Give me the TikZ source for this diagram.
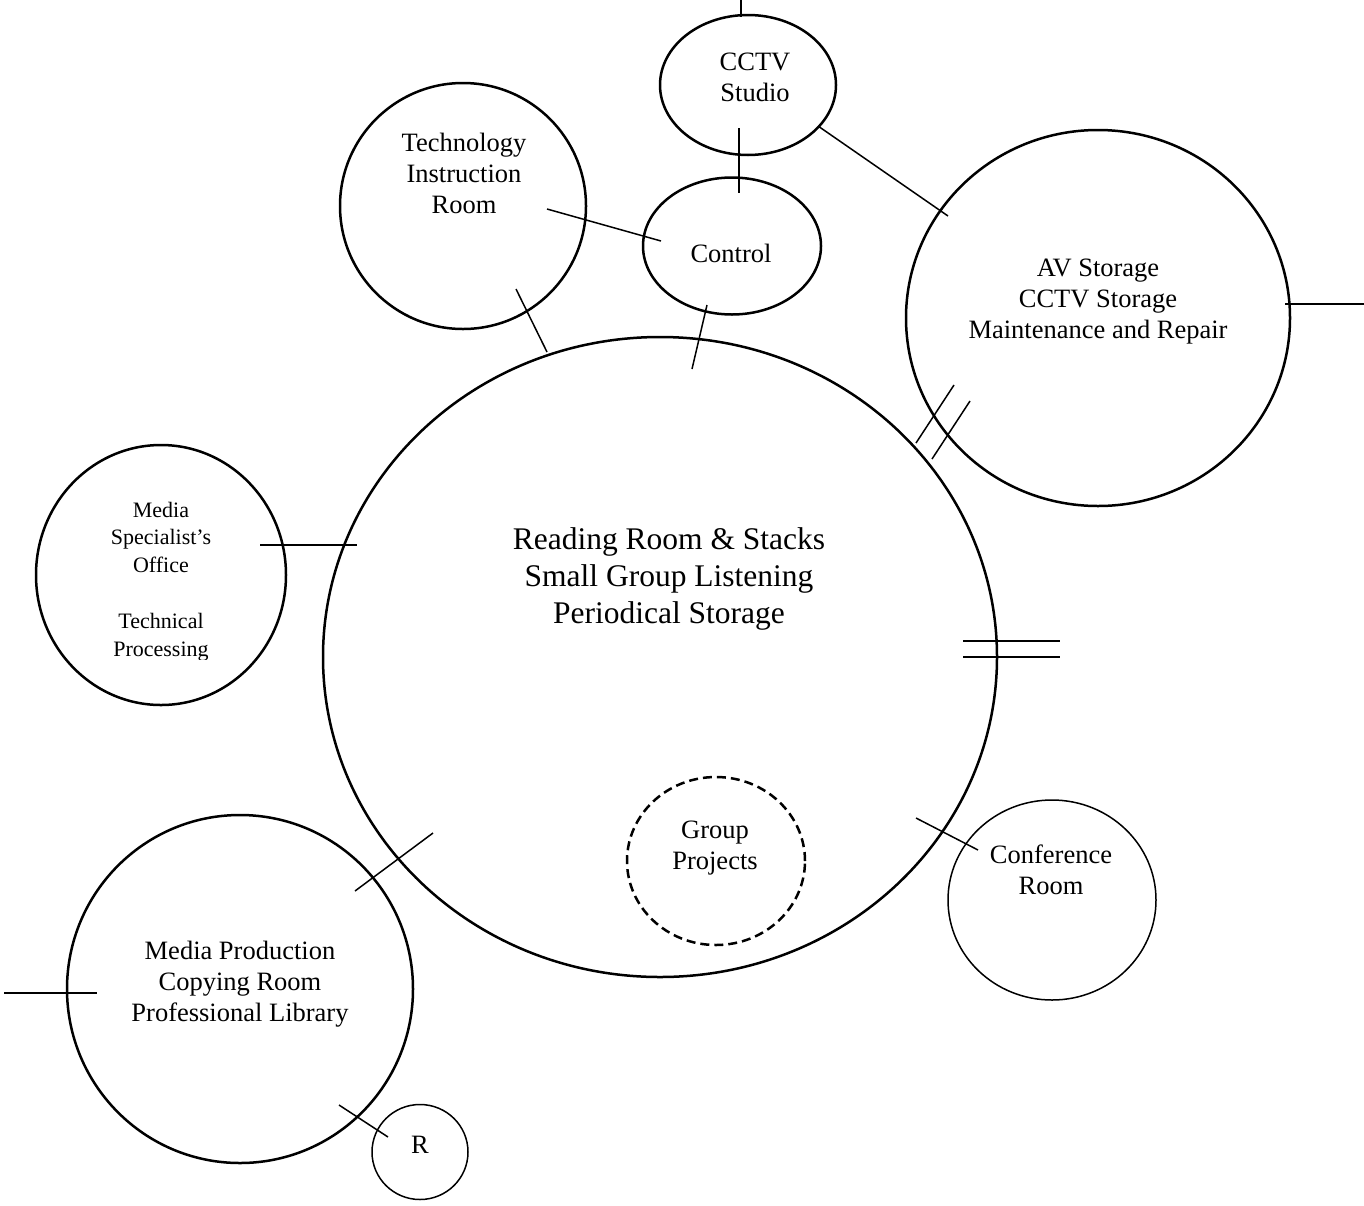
\documentclass[tikz,border=0pt]{standalone}
\usepackage{fontspec}
\setmainfont{Liberation Serif}
\usetikzlibrary{shapes.geometric}
\begin{document}
\begin{tikzpicture}[x=1pt,y=-1pt,
  room/.style={draw,ellipse,line width=2.5pt,inner sep=0pt},
  thinroom/.style={draw,ellipse,line width=1.5pt,inner sep=0pt},
  link/.style={line width=1.5pt},
  lbl/.style={align=center,inner sep=0pt,font=\fontsize{26.5}{31}\selectfont},
  biglbl/.style={align=center,inner sep=0pt,font=\fontsize{31.5}{37}\selectfont},
  smalllbl/.style={align=center,inner sep=0pt,font=\fontsize{22}{27.5}\selectfont}]
\useasboundingbox (0,0) rectangle (1364,1205);

% rooms
\node[room,minimum width=674,minimum height=640] (main) at (660,657) {};
\node[room,minimum width=246,minimum height=246] (tech) at (463,206) {};
\node[room,minimum width=176,minimum height=140] (cctv) at (748,85) {};
\node[room,minimum width=178,minimum height=137] (control) at (732,246) {};
\node[room,minimum width=384,minimum height=376] (av) at (1098,318) {};
\node[room,minimum width=250,minimum height=260] (office) at (161,575) {};
\node[room,minimum width=346,minimum height=348] (prod) at (240,989) {};
\node[thinroom,minimum width=96,minimum height=95] (rr) at (420,1152) {};
\node[thinroom,minimum width=208,minimum height=200] (conf) at (1052,900) {};
\node[room,dashed,dash pattern=on 9pt off 5pt,minimum width=178,minimum height=168] (group) at (716,861) {};

% labels
\node[biglbl] (mainlbl) at (669,579) {Reading Room \& Stacks\\Small Group Listening\\Periodical Storage};
\node[lbl] (techlbl) at (464,173) {Technology\\Instruction\\Room};
\node[lbl] (cctvlbl) at (755,77) {CCTV\\Studio};
\node[lbl] (controllbl) at (731,253) {Control};
\node[lbl] (avlbl) at (1098,302) {AV Storage\\CCTV Storage\\Maintenance and Repair};
\node[smalllbl] (officelbl) at (161,537) {Media\\Specialist's\\Office};
\begin{scope}
  \clip (40,600) rectangle (280,659);
  \node[smalllbl] (proclbl) at (161,637) {Technical\\Processing};
\end{scope}
\node[lbl] (grouplbl) at (715,848) {Group\\Projects};
\node[lbl] (conflbl) at (1051,870) {Conference\\Room};
\node[lbl] (prodlbl) at (240,984) {Media Production\\Copying Room\\Professional Library};
\node[lbl] (rlbl) at (420,1145) {R};

% connector end points
\coordinate (c1a) at (741,0);     \coordinate (c1b) at (741,17);
\coordinate (c2a) at (739,128);   \coordinate (c2b) at (739,193);
\coordinate (c3a) at (818,126);   \coordinate (c3b) at (948,216);
\coordinate (c4a) at (547,209);   \coordinate (c4b) at (661,241);
\coordinate (c5a) at (516,289);   \coordinate (c5b) at (547,352);
\coordinate (c6a) at (707,305);   \coordinate (c6b) at (692,369);
\coordinate (c7a) at (1285,304);  \coordinate (c7b) at (1364,304);
\coordinate (c8a) at (916,443);   \coordinate (c8b) at (954,385);
\coordinate (c9a) at (932,459);   \coordinate (c9b) at (970,401);
\coordinate (c10a) at (963,641);  \coordinate (c10b) at (1060,641);
\coordinate (c11a) at (963,657);  \coordinate (c11b) at (1060,657);
\coordinate (c12a) at (260,545);  \coordinate (c12b) at (357,545);
\coordinate (c13a) at (355,891);  \coordinate (c13b) at (433,833);
\coordinate (c14a) at (4,993);    \coordinate (c14b) at (97,993);
\coordinate (c15a) at (339,1105); \coordinate (c15b) at (388,1137);
\coordinate (c16a) at (916,818);  \coordinate (c16b) at (978,850);

% connectors
\foreach \i in {1,...,16} {\draw[link] (c\i a) -- (c\i b);}
\end{tikzpicture}
\end{document}
